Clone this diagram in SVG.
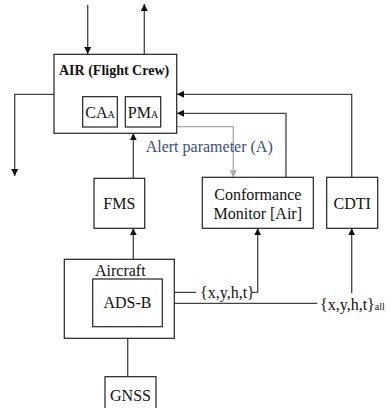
<svg xmlns="http://www.w3.org/2000/svg" width="392" height="408" viewBox="0 0 392 408">
  <style>
    .box { fill: #fff; stroke: #222; stroke-width: 1.2; }
    .ln { fill: none; stroke: #444; stroke-width: 1.3; }
    .gl { fill: none; stroke: #aaa; stroke-width: 1.3; }
    .t { font-family: "Liberation Serif", "Times New Roman", serif; font-size: 16px; fill: #111; }
    .tb { font-family: "Liberation Serif", "Times New Roman", serif; font-size: 14px; font-weight: bold; fill: #111; }
    .ta { font-family: "Liberation Serif", "Times New Roman", serif; font-size: 16px; fill: #3a4f82; }
    .sub { font-size: 10px; }
  </style>
  <defs>
    <marker id="ah" viewBox="0 0 10 10" refX="10" refY="5" markerWidth="7" markerHeight="7" markerUnits="userSpaceOnUse" orient="auto">
      <path d="M0,0 L10,5 L0,10 z" fill="#111"/>
    </marker>
    <marker id="ahg" viewBox="0 0 10 10" refX="10" refY="5" markerWidth="7" markerHeight="7" markerUnits="userSpaceOnUse" orient="auto">
      <path d="M0,0 L10,5 L0,10 z" fill="#aaa"/>
    </marker>
  </defs>

  <g id="connectors">
    <!-- external in / out of the crew box -->
    <path class="ln" d="M87.7,5 V54" marker-end="url(#ah)"/>
    <path class="ln" d="M144.3,54 V4" marker-end="url(#ah)"/>
    <path class="ln" d="M54,94.3 H14.7 V176" marker-end="url(#ah)"/>
    <!-- CDTI and monitor feeding the crew -->
    <path class="ln" d="M351.7,177.3 V94.3 H177" marker-end="url(#ah)"/>
    <path class="ln" d="M286,177.3 V113.3 H177" marker-end="url(#ah)"/>
    <!-- alert parameter -->
    <path class="gl" d="M177,126.7 H233.3 V177.3" marker-end="url(#ahg)"/>
    <!-- FMS chain -->
    <path class="ln" d="M133.3,178.3 V133.3" marker-end="url(#ah)"/>
    <path class="ln" d="M133.3,259.3 V228.3" marker-end="url(#ah)"/>
    <!-- GNSS to ADS-B -->
    <path class="ln" d="M127.7,376.7 V326.7" marker-end="url(#ah)"/>
    <!-- ADS-B state to monitor -->
    <path class="ln" d="M162.3,292.3 H196"/>
    <path class="ln" d="M252,292.3 H257.7 V228.3" marker-end="url(#ah)"/>
    <!-- broadcast states to CDTI -->
    <path class="ln" d="M174.3,303.3 H317.3"/>
    <path class="ln" d="M351.7,293.3 V228.3" marker-end="url(#ah)"/>
  </g>

  <g id="air">
    <rect class="box" x="54" y="54.3" width="122.7" height="79"/>
    <text class="tb" x="59" y="75">AIR (Flight Crew)</text>
  </g>
  <g id="ca">
    <rect class="box" x="82.7" y="96.7" width="34.6" height="30.3"/>
    <text class="t" x="100" y="117.5" text-anchor="middle">CA<tspan class="sub">A</tspan></text>
  </g>
  <g id="pm">
    <rect class="box" x="125.3" y="96.7" width="35.4" height="30.3"/>
    <text class="t" x="143" y="117.5" text-anchor="middle">PM<tspan class="sub">A</tspan></text>
  </g>

  <text class="ta" x="145.7" y="152">Alert parameter (A)</text>

  <g id="fms">
    <rect class="box" x="94" y="178.3" width="50.7" height="50"/>
    <text class="t" x="119.3" y="208.5" text-anchor="middle">FMS</text>
  </g>
  <g id="monitor">
    <rect class="box" x="202.3" y="177.3" width="111" height="51"/>
    <text class="t" x="257.8" y="199.5" text-anchor="middle">Conformance</text>
    <text class="t" x="257.8" y="218.5" text-anchor="middle">Monitor [Air]</text>
  </g>
  <g id="cdti">
    <rect class="box" x="326.7" y="177.3" width="51" height="51"/>
    <text class="t" x="352.2" y="208.5" text-anchor="middle">CDTI</text>
  </g>
  <g id="aircraft">
    <rect class="box" x="64.3" y="259.3" width="110" height="79"/>
    <text class="t" x="95" y="276">Aircraft</text>
  </g>
  <g id="adsb">
    <rect class="box" x="92.7" y="279" width="69.6" height="47.7"/>
    <text class="t" x="127.5" y="307.5" text-anchor="middle">ADS-B</text>
  </g>
  <g id="gnss">
    <rect class="box" x="105" y="376.7" width="51" height="40"/>
    <text class="t" x="130.5" y="400.5" text-anchor="middle">GNSS</text>
  </g>

  <text class="t" x="200" y="298">{x,y,h,t}</text>
  <text class="t" x="320" y="310">{x,y,h,t}<tspan class="sub">all</tspan></text>
</svg>
